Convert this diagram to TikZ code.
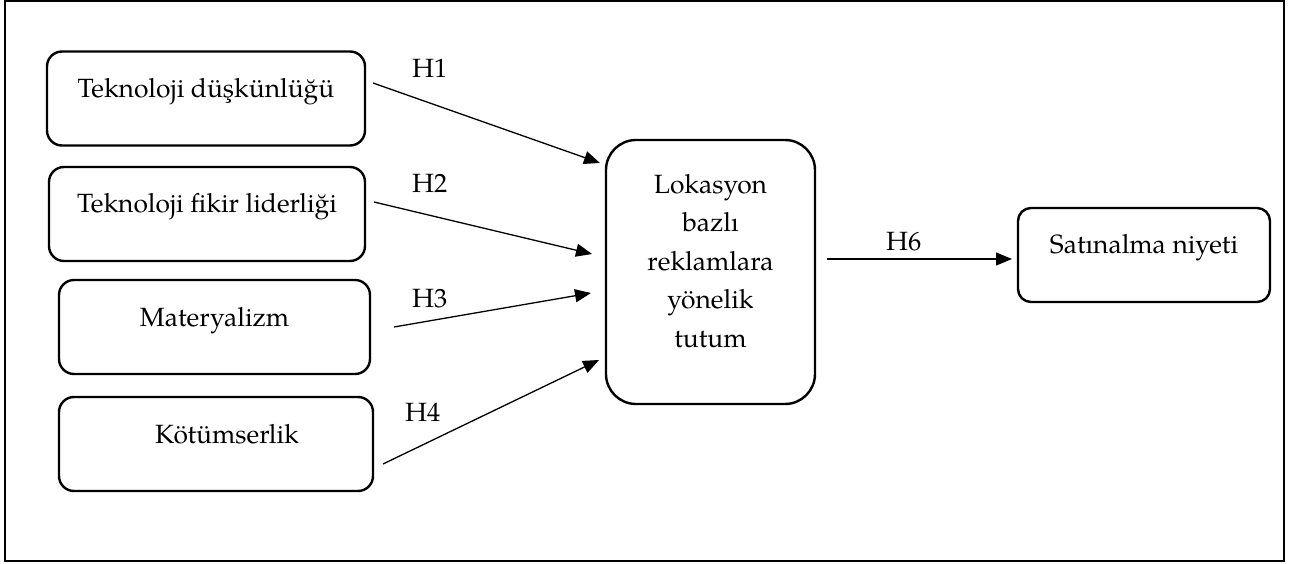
\documentclass[tikz,border=0pt]{standalone}
\usepackage{fontspec}
\setmainfont{TeX Gyre Pagella}
\usetikzlibrary{arrows.meta}
\begin{document}
\begin{tikzpicture}[x=1pt,y=-1pt,
  box/.style={draw,rectangle,rounded corners=15pt,line width=2.4pt,inner sep=0pt,outer sep=0pt},
  txt/.style={font=\fontsize{26.4}{38.5}\selectfont,inner sep=0pt,anchor=base},
  hyp/.style={font=\fontsize{26.4}{30}\selectfont,inner sep=0pt,anchor=base west},
  arr/.style={line width=1.3pt,-{Triangle[length=16pt,width=13pt]}}]
\useasboundingbox (0,0) rectangle (1291,564);
\draw[line width=2pt] (5,1.5) rectangle (1284,561);
\node[box,minimum width=318pt,minimum height=94pt] (b1) at (206,98.5) {};
\node[box,minimum width=316pt,minimum height=94pt] (b2) at (207,214) {};
\node[box,minimum width=311pt,minimum height=94pt] (b3) at (214.5,327) {};
\node[box,minimum width=314pt,minimum height=94pt] (b4) at (216,444) {};
\node[box,rounded corners=30pt,minimum width=209pt,minimum height=264pt] (c) at (710.5,272) {};
\node[box,rounded corners=13pt,minimum width=252pt,minimum height=94pt] (s) at (1144,255) {};
\node[txt] (t1) at (206,97.5) {Teknoloji düşkünlüğü};
\node[txt] (t2) at (207,212.5) {Teknoloji fikir liderliği};
\node[txt] (t3) at (214.5,326) {Materyalizm};
\node[txt] (t4) at (227,443) {Kötümserlik};
\node[txt,align=center,anchor=center] (tc) at (710.5,261) {Lokasyon\\bazlı\\reklamlara\\yönelik\\tutum};
\node[txt] (ts) at (1144,254) {Satınalma niyeti};
\node[hyp] (h1) at (412,78) {H1};
\node[hyp] (h2) at (412,193) {H2};
\node[hyp] (h3) at (412,307) {H3};
\node[hyp] (h4) at (405,421) {H4};
\node[hyp] (h6) at (886,251) {H6};
\draw[arr] ([shift={(8,-15.5)}]b1.east) -- ([shift={(-6,-109)}]c.west);
\draw[arr] ([shift={(9,-12)}]b2.east) -- ([shift={(-14,-18)}]c.west);
\draw[arr] ([shift={(24,0)}]b3.east) -- ([shift={(-15,21)}]c.west);
\draw[arr] ([shift={(10,20)}]b4.east) -- ([shift={(-7,88)}]c.west);
\draw[arr] ([shift={(12,-13)}]c.east) -- ([shift={(-6,4)}]s.west);
\end{tikzpicture}
\end{document}
